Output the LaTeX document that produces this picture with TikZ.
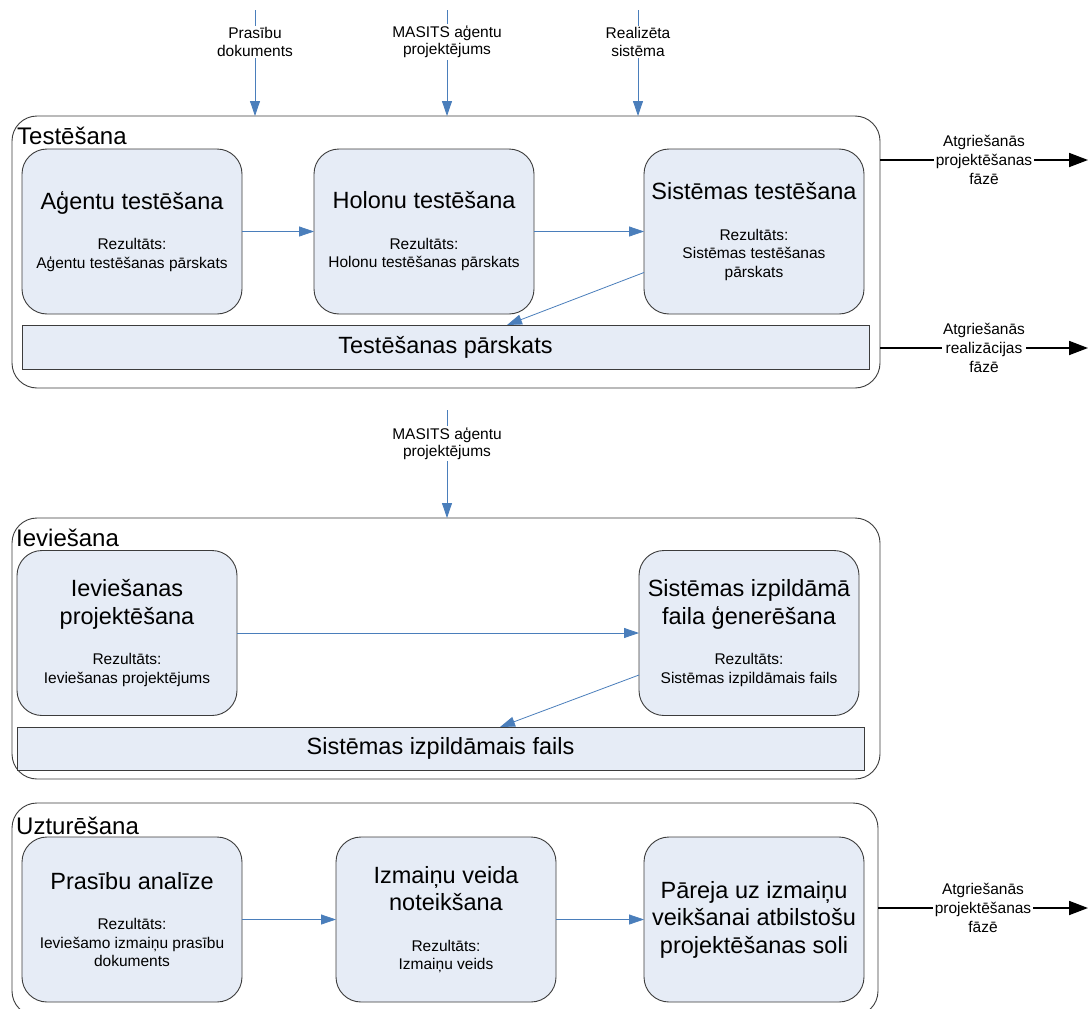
\documentclass[tikz,border=0pt]{standalone}
\usepackage{fontspec}
\setmainfont{Liberation Sans}
\usetikzlibrary{arrows.meta,calc}

\definecolor{boxfill}{HTML}{E6ECF6}
\definecolor{boxline}{HTML}{3C3C3C}
\definecolor{flowblue}{HTML}{4A7EBB}

\newcommand{\bigtxt}{\fontsize{23.5}{27.5}\selectfont}
\newcommand{\smalltxt}{\fontsize{15.5}{18.5}\selectfont}
% gap between a step title and its result, and between result lines
\newcommand{\resgap}{\\[13pt]\smalltxt}
\newcommand{\resline}{\\[-9pt]\smalltxt}

\tikzset{
  phase/.style={draw=boxline, line width=0.9pt, rounded corners=25pt,
    inner sep=0pt, outer sep=0pt},
  stepbox/.style={draw=boxline, fill=boxfill, line width=0.9pt,
    rounded corners=25pt, minimum width=220pt, minimum height=165pt,
    inner sep=0pt, outer sep=0pt, align=center, font=\bigtxt},
  resultbar/.style={draw=boxline, fill=boxfill, line width=0.9pt,
    inner sep=0pt, outer sep=0pt, font=\bigtxt},
  phasetitle/.style={anchor=west, inner sep=0pt,
    font=\fontsize{24}{28}\selectfont},
  flow/.style={draw=flowblue, line width=0.8pt,
    -{Triangle[length=15pt,width=10pt]}},
  exitflow/.style={draw=black, line width=1.8pt,
    -{Triangle[length=19pt,width=14pt]}},
  flowlabel/.style={fill=white, text=black, inner sep=1.5pt, align=center,
    font=\fontsize{15.5}{17.5}\selectfont},
  exitlabel/.style={fill=white, text=black, inner sep=1.5pt, align=center,
    font=\fontsize{15.5}{19}\selectfont},
}

\begin{document}
\begin{tikzpicture}[x=1pt, y=-1pt]
\useasboundingbox[fill=white] (0,0) rectangle (1088,1009);

% ---------------- Testēšana ----------------
\node[phase, minimum width=868pt, minimum height=272pt] (test) at (446,252) {};
\node[phasetitle] (testT) at (17,136) {Testēšana};

\node[stepbox] (agent) at (132,231.5)
  {Aģentu testēšana\resgap Rezultāts:\resline Aģentu testēšanas pārskats};
\node[stepbox] (holon) at (424,231.5)
  {Holonu testēšana\resgap Rezultāts:\resline Holonu testēšanas pārskats};
\node[stepbox] (sist) at (754,231.5)
  {Sistēmas testēšana\resgap Rezultāts:\resline Sistēmas testēšanas\resline pārskats};
\node[resultbar, minimum width=847pt, minimum height=44pt] (tbar) at (445.5,347)
  {Testēšanas pārskats};

\draw[flow] (agent) -- (holon);
\draw[flow] (holon) -- (sist);
\draw[flow] ($(sist.west)+(0,41)$) -- ($(tbar.north west)+(485,0)$);

% inputs of the testing phase
\coordinate (inPr) at (255,10);
\coordinate (inMa) at (447,10);
\coordinate (inRe) at (638,10);
\draw[flow] (inPr) -- (inPr |- test.north)
  node[flowlabel, pos=0.3] (lPr) {Prasību\\dokuments};
\draw[flow] (inMa) -- (inMa |- test.north)
  node[flowlabel, pos=0.3] (lMa) {MASITS aģentu\\projektējums};
\draw[flow] (inRe) -- (inRe |- test.north)
  node[flowlabel, pos=0.3] (lRe) {Realizēta\\sistēma};

% exits of the testing phase
\coordinate (outA) at (1088,160);
\coordinate (outB) at (1088,348);
\draw[exitflow] (test.east |- outA) -- (outA)
  node[exitlabel, pos=0.5] (lOutA) {Atgriešanās\\projektēšanas\\fāzē};
\draw[exitflow] (test.east |- outB) -- (outB)
  node[exitlabel, pos=0.5] (lOutB) {Atgriešanās\\realizācijas\\fāzē};

% ---------------- Ieviešana ----------------
\node[phase, minimum width=868pt, minimum height=261pt] (impl) at (446,648.5) {};
\node[phasetitle] (implT) at (16,538) {Ieviešana};

\node[stepbox] (idesign) at (127,633)
  {Ieviešanas\\projektēšana\resgap Rezultāts:\resline Ieviešanas projektējums};
\node[stepbox] (igen) at (749,633)
  {Sistēmas izpildāmā\\faila ģenerēšana\resgap Rezultāts:\resline Sistēmas izpildāmais fails};
\node[resultbar, minimum width=847pt, minimum height=43pt] (ibar) at (440.5,748.5)
  {Sistēmas izpildāmais fails};

\draw[flow] (idesign) -- (igen);
\draw[flow] ($(igen.west)+(0,42)$) -- ($(ibar.north west)+(483,0)$);

\coordinate (inImpl) at (447,410);
\draw[flow] (inImpl) -- (inImpl |- impl.north)
  node[flowlabel, pos=0.31] (lImpl) {MASITS aģentu\\projektējums};

% ---------------- Uzturēšana ----------------
\node[phase, minimum width=866pt, minimum height=213pt] (maint) at (445,909.5) {};
\node[phasetitle] (maintT) at (16,826) {Uzturēšana};

\node[stepbox] (req) at (132,919.5)
  {Prasību analīze\resgap Rezultāts:\resline Ieviešamo izmaiņu prasību\resline dokuments};
\node[stepbox] (kind) at (446,919.5)
  {Izmaiņu veida\\noteikšana\resgap Rezultāts:\resline Izmaiņu veids};
\node[stepbox] (move) at (754,919.5)
  {Pāreja uz izmaiņu\\veikšanai atbilstošu\\projektēšanas soli};

\draw[flow] (req) -- (kind);
\draw[flow] (kind) -- (move);

\coordinate (outC) at (1088,908);
\draw[exitflow] (maint.east |- outC) -- (outC)
  node[exitlabel, pos=0.5] (lOutC) {Atgriešanās\\projektēšanas\\fāzē};
\end{tikzpicture}
\end{document}
